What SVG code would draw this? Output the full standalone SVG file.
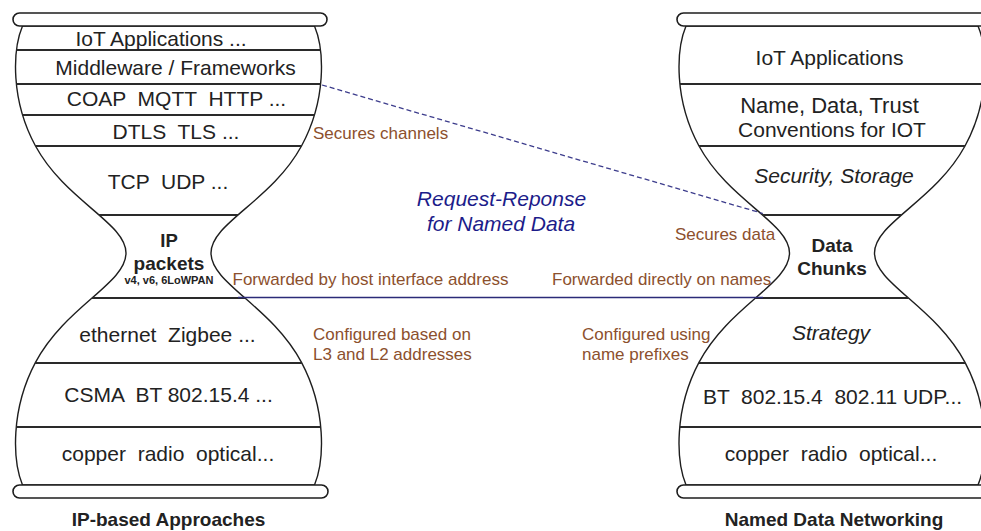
<svg xmlns="http://www.w3.org/2000/svg" xmlns:xlink="http://www.w3.org/1999/xlink" width="981" height="531" viewBox="0 0 981 531">
<style>
.outline{fill:#fff;stroke:#1e1e1e;stroke-width:1.4}
.layer{stroke:#2a2a2a;stroke-width:2;fill:none}
.cap{fill:#fff;stroke:#1e1e1e;stroke-width:1.6}
.lbl{font-family:"Liberation Sans",Arial,sans-serif;font-size:21px;fill:#222;text-anchor:middle}
.it{font-style:italic}
.b19{font-weight:bold;font-size:19px}
.small{font-weight:bold;font-size:11px}
.ann{font-family:"Liberation Sans",Arial,sans-serif;font-size:17px;fill:#8c502d}
.blue{font-family:"Liberation Sans",Arial,sans-serif;font-size:21px;font-style:italic;fill:#1c1c8a;text-anchor:middle}
.dash{stroke:#3c3c8c;stroke-width:1.3;stroke-dasharray:5 3;fill:none}
.navy{stroke:#2b2b78;stroke-width:1.6;fill:none}
</style>
<defs>
<path id="hg" d="M146,26 C156,50 158,100 133,146 C103,201 42.5,223 42.5,253 C42.5,283.7 103,306.1 133,362.4 C158,409.4 156,460.5 146,485 L-146,485 C-156,460.5 -158,409.4 -133,362.4 C-103,306.1 -42.5,283.7 -42.5,253 C-42.5,223 -103,201 -133,146 C-158,100 -156,50 -146,26 Z"/>
<clipPath id="clipL"><use href="#hg" xlink:href="#hg" transform="translate(168.5 0)"/></clipPath>
<clipPath id="clipR"><use href="#hg" xlink:href="#hg" transform="translate(832 0)"/></clipPath>
</defs>

<g id="ip-hourglass">
<use href="#hg" xlink:href="#hg" class="outline" transform="translate(168.5 0)"/>
<g clip-path="url(#clipL)" class="layer">
<line x1="0" y1="50" x2="340" y2="50"/>
<line x1="0" y1="84" x2="340" y2="84"/>
<line x1="0" y1="115" x2="340" y2="115"/>
<line x1="0" y1="146" x2="340" y2="146"/>
<line x1="0" y1="215" x2="340" y2="215"/>
<line x1="0" y1="298" x2="340" y2="298"/>
<line x1="0" y1="363" x2="340" y2="363"/>
<line x1="0" y1="427" x2="340" y2="427"/>
</g>
<rect class="cap" x="13" y="13" width="314" height="13" rx="6.5"/>
<rect class="cap" x="13" y="485" width="315" height="13" rx="6.5"/>
</g>

<g id="ndn-hourglass">
<use href="#hg" xlink:href="#hg" class="outline" transform="translate(832 0)"/>
<g clip-path="url(#clipR)" class="layer">
<line x1="660" y1="84" x2="1000" y2="84"/>
<line x1="660" y1="146" x2="1000" y2="146"/>
<line x1="660" y1="215" x2="1000" y2="215"/>
<line x1="660" y1="298" x2="1000" y2="298"/>
<line x1="660" y1="363" x2="1000" y2="363"/>
<line x1="660" y1="427" x2="1000" y2="427"/>
</g>
<rect class="cap" x="677" y="13" width="315" height="13" rx="6.5"/>
<rect class="cap" x="677" y="485" width="315" height="13" rx="6.5"/>
</g>

<g id="connectors">
<line class="dash" x1="322" y1="85" x2="763" y2="213.5"/>
<line class="navy" x1="238" y1="297.5" x2="763" y2="297.5"/>
</g>

<g id="ip-app"><text class="lbl" x="161" y="45.5">IoT Applications ...</text></g>
<g id="ip-middleware"><text class="lbl" x="175.5" y="75">Middleware / Frameworks</text></g>
<g id="ip-coap"><text class="lbl" x="176.5" y="106" xml:space="preserve">COAP  MQTT  HTTP ...</text></g>
<g id="ip-dtls"><text class="lbl" x="176" y="138.5" xml:space="preserve">DTLS  TLS ...</text></g>
<g id="ip-tcp"><text class="lbl" x="168" y="189" xml:space="preserve">TCP  UDP ...</text></g>
<g id="ip-packets">
<text class="lbl" x="169" y="247" style="font-weight:bold;font-size:18.5px">IP</text>
<text class="lbl b19" x="169" y="270">packets</text>
<text class="lbl small" x="169" y="284">v4, v6, 6LoWPAN</text>
</g>
<g id="ip-ethernet"><text class="lbl" x="167.5" y="341.5" xml:space="preserve">ethernet  Zigbee ...</text></g>
<g id="ip-csma"><text class="lbl" x="168.5" y="402" xml:space="preserve">CSMA  BT 802.15.4 ...</text></g>
<g id="ip-phy"><text class="lbl" x="168" y="460.5" xml:space="preserve">copper  radio  optical...</text></g>
<g id="ip-title"><text class="lbl b19" x="168.5" y="526">IP-based Approaches</text></g>

<g id="ndn-app"><text class="lbl" x="829.5" y="65">IoT Applications</text></g>
<g id="ndn-conventions">
<text class="lbl" x="829.5" y="113" style="font-size:22px">Name, Data, Trust</text>
<text class="lbl" x="832" y="137">Conventions for IOT</text>
</g>
<g id="ndn-security"><text class="lbl it" x="834" y="183">Security, Storage</text></g>
<g id="ndn-chunks">
<text class="lbl b19" x="832" y="252">Data</text>
<text class="lbl b19" x="832" y="275">Chunks</text>
</g>
<g id="ndn-strategy"><text class="lbl it" x="831" y="340">Strategy</text></g>
<g id="ndn-link"><text class="lbl" x="832.5" y="404" xml:space="preserve">BT  802.15.4  802.11 UDP...</text></g>
<g id="ndn-phy"><text class="lbl" x="831" y="460.5" xml:space="preserve">copper  radio  optical...</text></g>
<g id="ndn-title"><text class="lbl b19" x="834" y="526">Named Data Networking</text></g>

<g id="annotations">
<text class="ann" x="313" y="139">Secures channels</text>
<text class="blue" x="501.5" y="206">Request-Reponse</text>
<text class="blue" x="501" y="231">for Named Data</text>
<text class="ann" x="675" y="239.5">Secures data</text>
<text class="ann" x="232.5" y="285">Forwarded by host interface address</text>
<text class="ann" x="552" y="285">Forwarded directly on names</text>
<text class="ann" x="313" y="340">Configured based on</text>
<text class="ann" x="313" y="360">L3 and L2 addresses</text>
<text class="ann" x="582" y="340">Configured using</text>
<text class="ann" x="582" y="360">name prefixes</text>
</g>
</svg>
